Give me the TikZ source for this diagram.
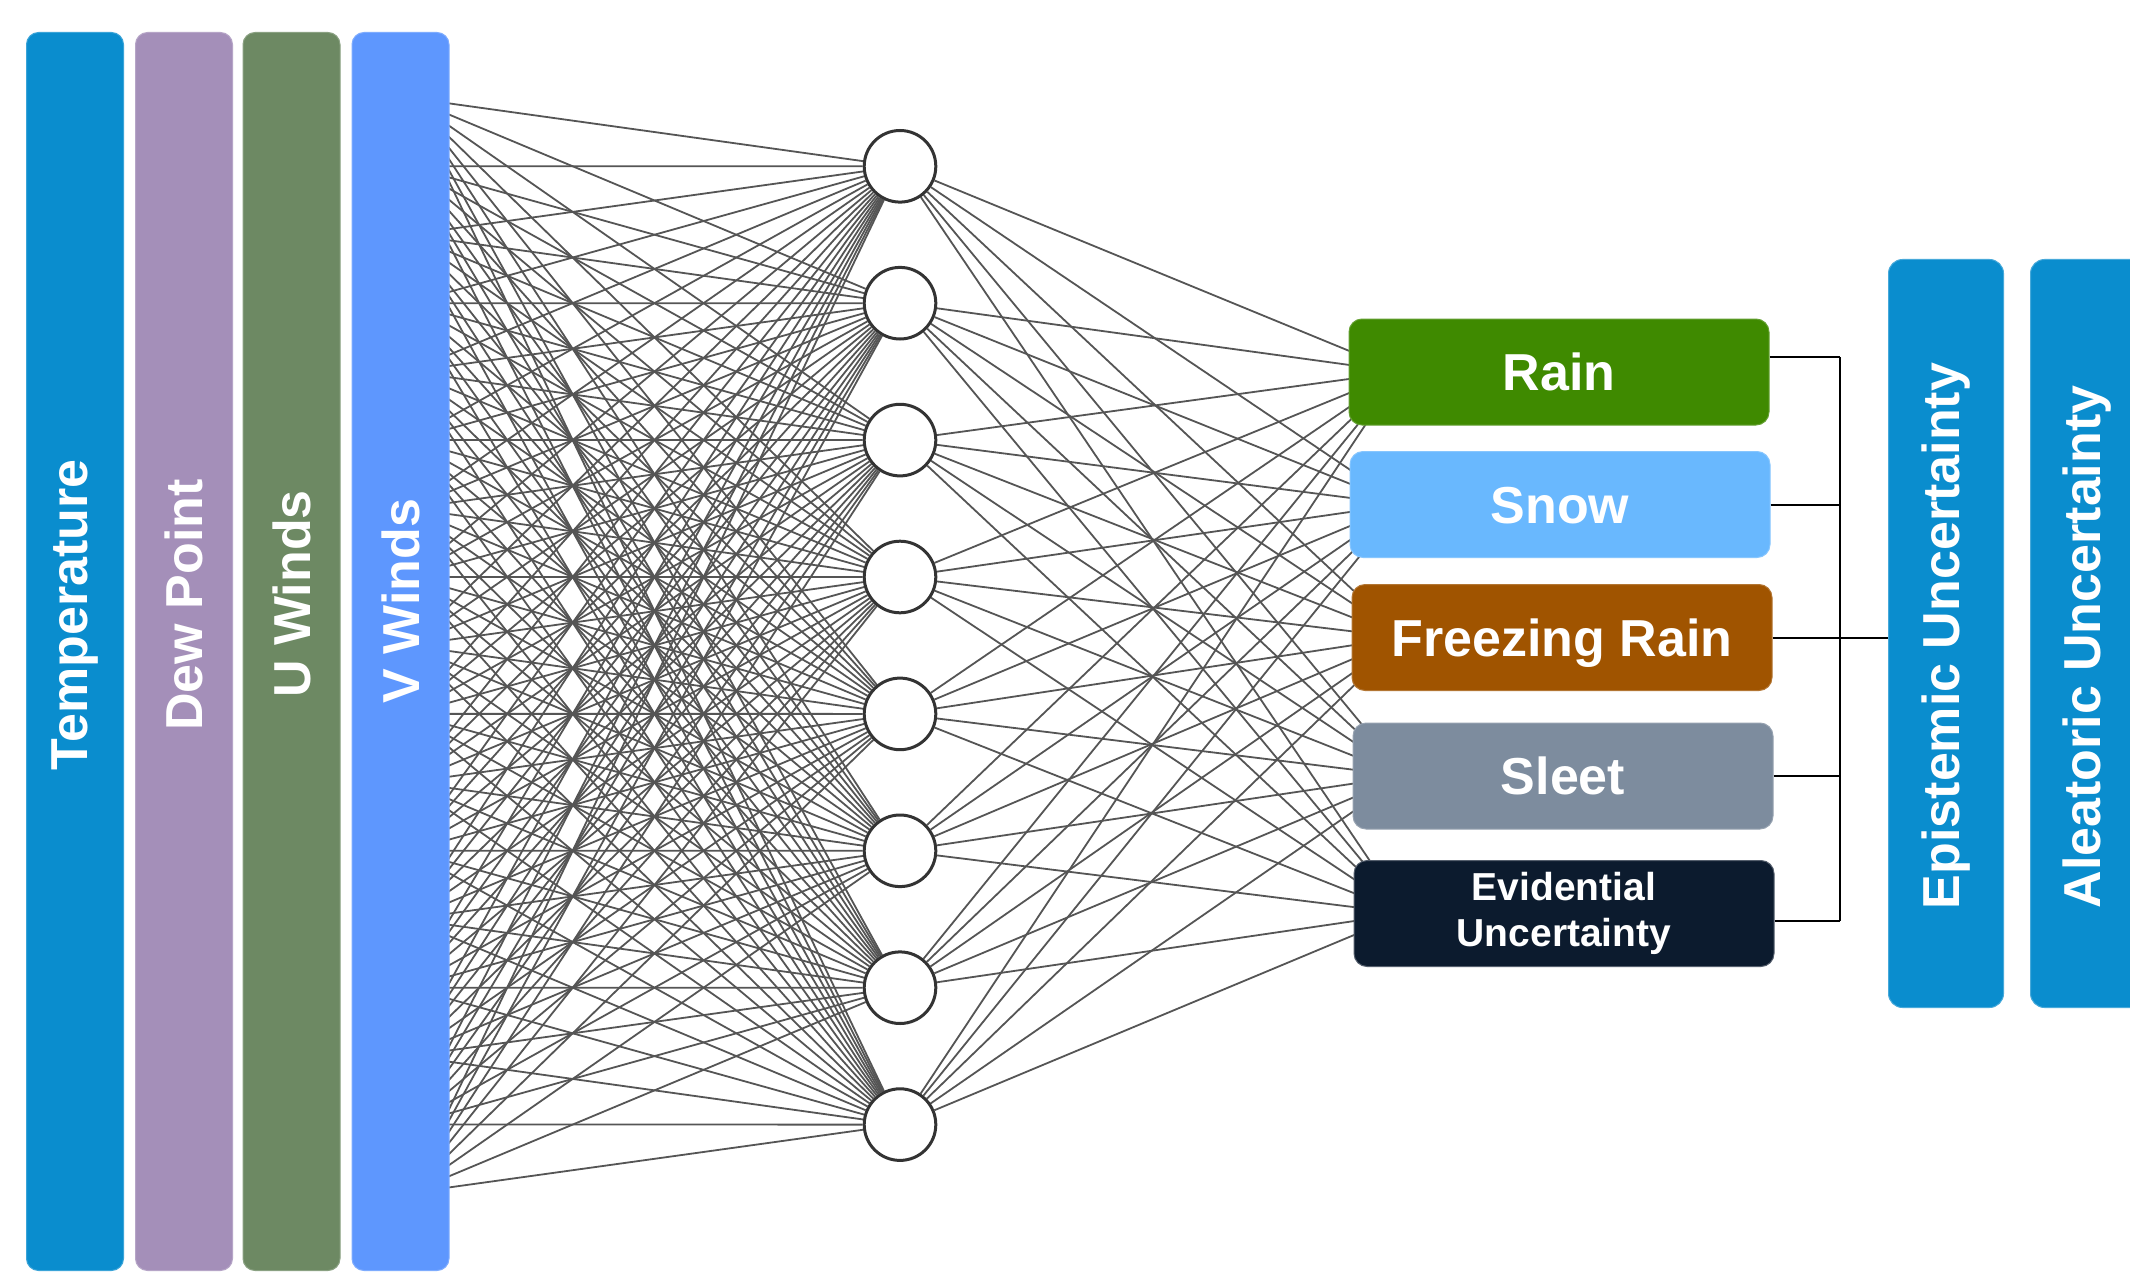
\documentclass[tikz,border=0pt]{standalone}
\usepackage{fontspec}
\setmainfont{Liberation Sans}
\usetikzlibrary{calc}
\definecolor{ctemp}{RGB}{10,141,206}
\definecolor{cdew}{RGB}{164,143,185}
\definecolor{cuw}{RGB}{109,137,99}
\definecolor{cvw}{RGB}{94,151,254}
\definecolor{crain}{RGB}{63,138,0}
\definecolor{csnow}{RGB}{105,184,254}
\definecolor{cfrz}{RGB}{160,84,0}
\definecolor{csleet}{RGB}{125,140,158}
\definecolor{cevid}{RGB}{12,27,46}
\definecolor{cline}{RGB}{85,85,85}
\definecolor{ccirc}{RGB}{51,51,51}
\pgfdeclarelayer{bg}
\pgfsetlayers{bg,main}
\begin{document}
\begin{tikzpicture}[x=1pt,y=-1pt,
  bar/.style={rounded corners=12pt, minimum width=97pt, minimum height=1238pt, inner sep=0pt, line width=1pt},
  vtext/.style={rotate=90, text=white, inner sep=0pt, font=\bfseries\fontsize{52}{62}\selectfont},
  hid/.style={circle, draw=ccirc, line width=3pt, fill=white, minimum size=71.6pt, inner sep=0pt},
  conn/.style={draw=cline, line width=1.8pt},
  outbox/.style={rounded corners=13pt, minimum width=420pt, minimum height=106pt, inner sep=0pt, line width=1pt, text=white, font=\bfseries\fontsize{52}{62}\selectfont, align=center},
  onerow/.style={text height=37pt, text depth=0pt},
  ubox/.style={rounded corners=14pt, minimum width=115pt, minimum height=748pt, inner sep=0pt, line width=1pt, fill=ctemp, draw=ctemp!75!white},
  bracket/.style={draw=black, line width=2pt}
]
\begin{pgfonlayer}{bg}
\fill[white] (0,0) rectangle (2130,1273);
\end{pgfonlayer}
\useasboundingbox (0,0) rectangle (2130,1273);

% input bars
\node[bar, fill=ctemp, draw=ctemp!80!white] (temp) at (75,651.5) {};
\node[bar, fill=cdew, draw=cdew!80!white] (dew) at (184,651.5) {};
\node[bar, fill=cuw, draw=cuw!80!white] (uw) at (291.5,651.5) {};
\node[bar, fill=cvw, draw=cvw!80!white] (vw) at (400.5,651.5) {};
\node[vtext] (tempT) at (75,615) {Temperature};
\node[vtext] (dewT) at (184,605) {Dew Point};
\node[vtext] (uwT) at (291.5,594) {U Winds};
\node[vtext] (vwT) at (400.5,601) {V Winds};

% input points (hidden behind V Winds)
\foreach \k in {0,...,16} \coordinate (in\k) at (409,{97.8+\k*68.45});

% hidden layer
\foreach \j in {1,...,8} \node[hid] (h\j) at (900,{166.3+(\j-1)*136.9}) {};

% outputs
\node[outbox, onerow, fill=crain, draw=crain!80!white] (rain) at (1559,372) {Rain};
\node[outbox, onerow, fill=csnow, draw=csnow!80!white] (snow) at (1560,504.5) {Snow};
\node[outbox, onerow, fill=cfrz, draw=cfrz!80!white] (frz) at (1562,637.5) {Freezing Rain};
\node[outbox, onerow, fill=csleet, draw=csleet!80!white] (sleet) at (1563,776) {Sleet};
\node[outbox, fill=cevid, draw=cevid!70!white, font=\bfseries\fontsize{39}{46}\selectfont] (evid) at (1564,913.5) {Evidential\\Uncertainty};

\foreach \o in {rain,snow,frz,sleet,evid} \coordinate (p\o) at ([xshift=52pt]\o.west);

% connections
\begin{pgfonlayer}{bg}
\foreach \k in {0,...,16}{\foreach \j in {1,...,8}{\draw[conn] (in\k) -- (h\j);}}
\foreach \j in {1,...,8}{\foreach \o in {rain,snow,frz,sleet,evid}{\draw[conn] (h\j) -- (p\o);}}
\end{pgfonlayer}

% uncertainty boxes
\node[ubox] (epi) at (1946,633.5) {};
\node[ubox] (alea) at (2088,633.5) {};
\node[vtext] (epiT) at (1946,636) {Epistemic Uncertainty};
\node[vtext] (aleaT) at (2087,647) {Aleatoric Uncertainty};

% bracket
\coordinate (btop) at (1839.5,357);
\coordinate (bbot) at (1839.5,921);
\draw[bracket] ([yshift=15pt]rain.east) -| (btop);
\draw[bracket] (btop) -- (bbot);
\draw[bracket] (snow.east) -- (snow.east -| btop);
\draw[bracket] (frz.east) -- (frz.east -| epi.west);
\draw[bracket] (sleet.east) -- (sleet.east -| btop);
\draw[bracket] ([yshift=-7.5pt]evid.east) -| (bbot);
\end{tikzpicture}
\end{document}
